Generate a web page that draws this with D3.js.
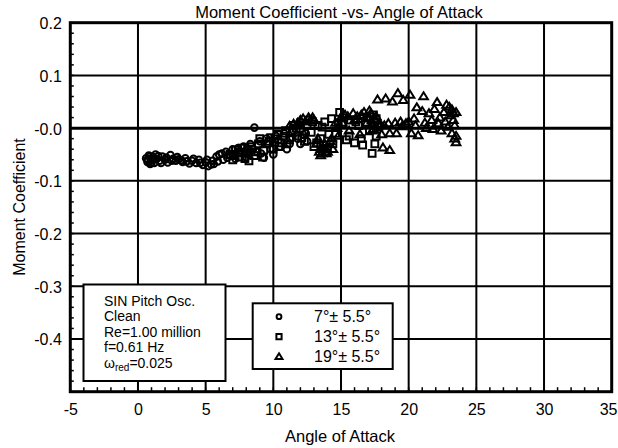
<!DOCTYPE html>
<html>
<head>
<meta charset="utf-8">
<script src="https://cdn.jsdelivr.net/npm/d3@7/dist/d3.min.js"></script>
<style>
  html, body { margin: 0; padding: 0; background: #fff; }
  svg { display: block; font-family: Arial, "Liberation Sans", sans-serif; }
</style>
</head>
<body>
<svg id="chart" width="618" height="448"></svg>
<script>
// Pitch oscillation runs: [angle of attack (deg), moment coefficient]
const mean7 = [
  [0.6,-0.057],[0.7,-0.064],[0.8,-0.052],[0.9,-0.068],[1.0,-0.060],[1.1,-0.055],
  [1.2,-0.066],[1.3,-0.050],[1.4,-0.058],[1.6,-0.062],[1.8,-0.054],[2.0,-0.060],
  [2.2,-0.065],[2.4,-0.051],[2.6,-0.058],[2.8,-0.062],[3.0,-0.059],[3.3,-0.064],
  [3.5,-0.057],[3.8,-0.067],[4.0,-0.062],[4.3,-0.066],[4.5,-0.060],[4.8,-0.070],
  [5.0,-0.065],[5.2,-0.072],[5.5,-0.062],[5.6,-0.068],[5.8,-0.054],[6.0,-0.050],
  [6.3,-0.060],[6.5,-0.045],[6.8,-0.052],[7.0,-0.040],[7.2,-0.058],[7.5,-0.047],
  [7.8,-0.035],[8.0,-0.055],[8.3,-0.030],[8.6,0.001],[8.8,-0.045],[9.0,-0.025],
  [9.3,-0.056],[9.5,-0.020],[9.8,-0.040],[10.2,-0.015],[10.5,-0.035],[10.8,-0.010],
  [11.2,-0.030],[11.5,-0.005],[11.8,-0.020],[12.2,-0.012],[12.5,-0.025],
  [0.7,-0.060],[0.9,-0.054],[1.0,-0.066],[1.2,-0.058],[1.5,-0.053],[1.7,-0.066],
  [2.1,-0.056],[2.5,-0.062],[2.9,-0.055],[3.2,-0.061],[3.6,-0.063],[4.1,-0.058],
  [4.6,-0.066],[5.1,-0.060],[5.4,-0.069],[5.9,-0.063],[6.2,-0.048],[6.6,-0.056],
  [7.1,-0.050],[7.4,-0.038],[7.9,-0.044],[8.2,-0.050],[8.5,-0.040],[9.1,-0.048],
  [9.6,-0.030],[10.0,-0.050],[10.4,-0.022],[11.0,-0.040],[11.4,-0.018],[12.0,-0.030],
  [12.4,-0.010]
];
const mean13 = [
  [6.8,-0.050],[7.0,-0.060],[7.2,-0.042],[7.5,-0.055],[7.7,-0.038],[8.0,-0.048],
  [8.2,-0.062],[8.4,-0.035],[8.7,-0.045],[9.0,-0.020],[9.2,-0.055],[9.5,-0.030],
  [9.8,-0.018],[10.0,-0.040],[10.3,-0.012],[10.6,-0.028],[10.9,-0.005],[11.2,-0.022],
  [11.5,0.005],[11.8,-0.015],[12.0,0.010],[12.3,-0.025],[12.6,0.015],[12.8,-0.008],
  [13.0,-0.035],[13.3,0.005],[13.5,-0.020],[13.8,0.012],[14.0,-0.040],[14.3,0.018],
  [14.6,-0.010],[14.9,0.030],[15.1,0.008],[15.4,-0.022],[15.7,0.015],[16.0,-0.028],
  [16.3,0.005],[16.6,-0.032],[16.9,0.020],[17.1,-0.005],[17.3,-0.048],[17.4,0.025],
  [17.5,0.010],[17.6,-0.015],[17.6,0.018],[17.8,0.002],
  [7.1,-0.052],[7.4,-0.046],[7.9,-0.058],[8.1,-0.040],[8.6,-0.052],[8.9,-0.030],
  [9.3,-0.042],[9.7,-0.025],[10.1,-0.020],[10.4,-0.035],[10.8,-0.015],[11.0,-0.030],
  [11.4,-0.008],[11.7,0.000],[12.1,-0.018],[12.5,0.005],[12.9,0.012],[13.2,-0.028],
  [13.6,0.002],[14.1,-0.012],[14.4,-0.030],[14.8,0.010],[15.2,0.020],[15.6,-0.015],
  [16.1,0.012],[16.5,-0.020],[16.8,0.008],[17.2,0.015],[17.5,-0.030],[17.7,0.005]
];
const mean19 = [
  [11.2,0.004],[11.8,0.010],[12.2,0.018],[12.6,0.020],[13.0,0.015],[13.2,-0.030],
  [13.4,-0.045],[13.5,-0.052],[13.7,-0.038],[13.9,-0.048],[14.2,-0.025],[14.4,-0.040],
  [14.6,0.010],[14.8,-0.015],[15.0,0.020],[15.3,0.025],[15.6,-0.005],[15.9,0.028],
  [16.2,0.022],[16.4,-0.012],[16.7,0.030],[16.9,0.010],[17.1,0.033],[17.3,-0.005],
  [17.5,0.015],[17.7,0.054],[17.9,0.008],[18.0,-0.012],[18.1,-0.037],[18.3,0.056],
  [18.5,0.009],[18.6,-0.042],[18.8,0.050],[19.1,-0.010],[19.2,0.066],[19.4,0.012],
  [19.6,0.053],[19.8,0.009],[20.1,0.063],[20.2,-0.010],[20.4,0.018],[20.6,0.039],
  [20.7,-0.014],[21.0,0.032],[21.1,0.060],[21.3,0.000],[21.5,0.028],[21.7,0.015],
  [21.9,0.036],[22.1,0.049],[22.2,0.009],[22.4,-0.005],[22.6,0.030],[22.8,0.044],
  [22.9,0.002],[23.1,0.024],[23.2,0.035],[23.2,-0.010],[23.3,0.015],[23.4,-0.020],
  [23.4,0.005],[23.5,-0.027],[23.5,0.030],
  [11.5,0.008],[12.0,0.015],[12.4,0.012],[12.9,0.020],[13.3,-0.020],[13.5,-0.040],
  [13.6,-0.048],[13.8,-0.030],[14.0,-0.045],[14.3,-0.020],[14.7,0.000],[15.1,0.010],
  [15.5,0.022],[16.0,0.015],[16.5,0.025],[17.0,0.020],[17.2,0.028],[17.4,-0.002],
  [17.6,0.022],[18.2,0.005],[18.6,-0.010],[19.0,0.010],[19.5,0.003],[20.0,0.012],
  [20.5,0.005],[21.2,0.010],[21.8,-0.002],[22.3,0.020],[22.7,0.012],[23.0,0.040],
  [23.3,0.028],[23.5,-0.015]
];

const seriesNames = ["7°± 5.5°", "13°± 5.5°", "19°± 5.5°"];
const seriesSymbols = ["circle", "square", "triangle"];
const xTicks = [-5, 0, 5, 10, 15, 20, 25, 30, 35];
const xTickLabels = ["-5", "0", "5", "10", "15", "20", "25", "30", "35"];
const yTicks = [-0.4, -0.3, -0.2, -0.1, 0, 0.1, 0.2];
const yTickLabels = ["-0.4", "-0.3", "-0.2", "-0.1", "-0.0", "0.1", "0.2"];
const infoLines = ["SIN Pitch Osc.", "Clean", "Re=1.00 million", "f=0.61 Hz"];

const svg = d3.select("#chart");
const W = 618;
const plot = { left: 70.3, right: 611.7, top: 22.7, bottom: 391.7 };
const font = "Arial, 'Liberation Sans', sans-serif";

const x = d3.scaleLinear().domain([-5, 35]).range([plot.left, plot.right]);
const y = d3.scaleLinear().domain([-0.5, 0.2]).range([plot.bottom, plot.top]);

// grid
const grid = svg.append("g").attr("stroke", "#000").attr("fill", "none");
grid.selectAll("line.v").data(xTicks.slice(1, -1)).join("line")
  .attr("x1", d => x(d)).attr("x2", d => x(d))
  .attr("y1", plot.top).attr("y2", plot.bottom).attr("stroke-width", 2);
grid.selectAll("line.h").data(yTicks.slice(0, -1)).join("line")
  .attr("y1", d => y(d)).attr("y2", d => y(d))
  .attr("x1", plot.left).attr("x2", plot.right)
  .attr("stroke-width", d => d === 0 ? 3 : 2);

// marker shapes
function markerPath(type, s) {
  if (type === "circle") return d3.symbol(d3.symbolCircle, Math.PI * s * s)();
  if (type === "square") return d3.symbol(d3.symbolSquare, (2 * s) * (2 * s))();
  const h = s * 1.75;
  return `M0,${-h * 0.6}L${h * 0.62},${h * 0.4}L${-h * 0.62},${h * 0.4}Z`;
}

const allSeries = [mean7, mean13, mean19];
const sizes = [3.3, 3.4, 4.0];
allSeries.forEach((data, i) => {
  svg.append("g")
    .attr("fill", "none").attr("stroke", "#000").attr("stroke-width", 2)
    .selectAll("path").data(data).join("path")
    .attr("transform", d => `translate(${x(d[0])},${y(d[1])})`)
    .attr("d", markerPath(seriesSymbols[i], sizes[i]));
});

// minor ticks
const xMinor = d3.range(-5, 35.01, 1);
svg.append("g").attr("stroke", "#000").attr("stroke-width", 1.5)
  .selectAll("line").data(xMinor).join("line")
  .attr("x1", d => x(d)).attr("x2", d => x(d))
  .attr("y1", plot.bottom).attr("y2", plot.bottom - 4.5);
const yMinor = d3.range(-0.5, 0.2001, 0.02);
svg.append("g").attr("stroke", "#000").attr("stroke-width", 1.5)
  .selectAll("line").data(yMinor).join("line")
  .attr("y1", d => y(d)).attr("y2", d => y(d))
  .attr("x1", plot.left).attr("x2", plot.left + 3.5);

// frame
svg.append("rect")
  .attr("x", plot.left).attr("y", plot.top)
  .attr("width", plot.right - plot.left).attr("height", plot.bottom - plot.top)
  .attr("fill", "none").attr("stroke", "#000").attr("stroke-width", 3);

// axis labels
const xAxis = d3.axisBottom(x).tickValues(xTicks).tickSize(0).tickPadding(0)
  .tickFormat((d, i) => xTickLabels[i]);
svg.append("g").attr("transform", `translate(0,${plot.bottom})`).call(xAxis)
  .call(g => g.select(".domain").remove())
  .call(g => g.selectAll("text").attr("y", 0).attr("dy", 23.5)
    .attr("font-size", 16).attr("font-family", font).attr("fill", "#000"))
  // keep the last label inside the page edge
  .call(g => g.selectAll(".tick").filter(d => d === 35).select("text")
    .attr("text-anchor", "end").attr("x", W - 1 - x(35)));

const yAxis = d3.axisLeft(y).tickValues(yTicks).tickSize(0)
  .tickFormat((d, i) => yTickLabels[i]);
svg.append("g").attr("transform", `translate(${plot.left},0)`).call(yAxis)
  .call(g => g.select(".domain").remove())
  .call(g => g.selectAll("text").attr("x", -8.5).attr("dy", 6)
    .attr("font-size", 16).attr("font-family", font).attr("fill", "#000"));

// titles
svg.append("text").attr("x", 339).attr("y", 17.5).attr("text-anchor", "middle")
  .attr("font-size", 16.5).text("Moment Coefficient -vs- Angle of Attack");
svg.append("text").attr("x", 340).attr("y", 441.5).attr("text-anchor", "middle")
  .attr("font-size", 16.5).text("Angle of Attack");
svg.append("text").attr("transform", "translate(25,207) rotate(-90)")
  .attr("text-anchor", "middle").attr("font-size", 16).text("Moment Coefficient");

// run description box
svg.append("rect").attr("x", 83.5).attr("y", 284.5).attr("width", 142).attr("height", 96.5)
  .attr("fill", "#fff").attr("stroke", "#000").attr("stroke-width", 2);
const info = svg.append("g").attr("font-size", 14);
const infoY = [306, 320.5, 336.5, 351.5];
infoLines.forEach((t, i) => {
  info.append("text").attr("x", 104).attr("y", infoY[i]).text(t);
});
const omega = info.append("text").attr("x", 104).attr("y", 368);
omega.append("tspan").text("ω");
omega.append("tspan").attr("font-size", 10).attr("dy", 3).text("red");
omega.append("tspan").attr("dy", -3).text("=0.025");

// series legend
svg.append("rect").attr("x", 252.7).attr("y", 303.3).attr("width", 140).attr("height", 65.7)
  .attr("fill", "#fff").attr("stroke", "#000").attr("stroke-width", 2);
const legendY = [316.7, 336.7, 356.7];
const legendSizes = [2.4, 2.6, 3.2];
seriesNames.forEach((name, i) => {
  svg.append("path")
    .attr("transform", `translate(279,${legendY[i]})`)
    .attr("d", markerPath(seriesSymbols[i], legendSizes[i]))
    .attr("fill", "none").attr("stroke", "#000").attr("stroke-width", 2);
  svg.append("text").attr("x", 314).attr("y", legendY[i] + 5.6)
    .attr("font-size", 16).text(name);
});
</script>
</body>
</html>
